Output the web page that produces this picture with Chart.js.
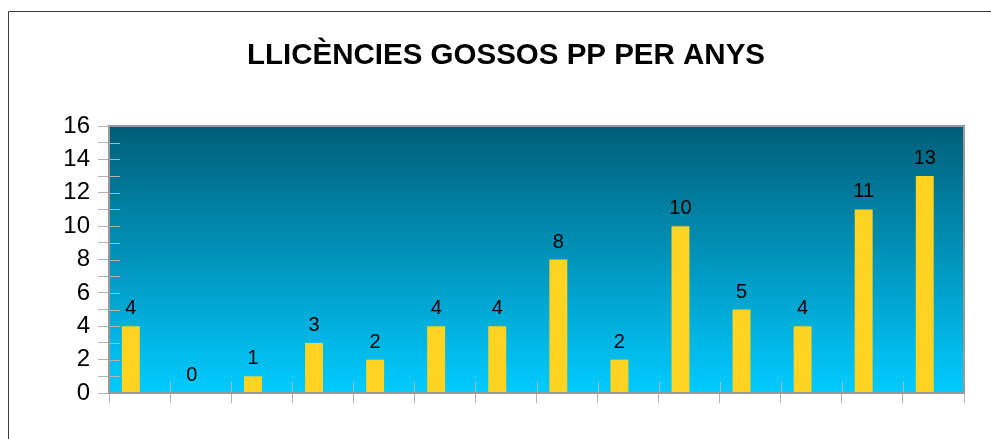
<!DOCTYPE html>
<html>
<head>
<meta charset="utf-8">
<script src="https://cdn.jsdelivr.net/npm/chart.js@4/dist/chart.umd.min.js"></script>
<style>
  html, body { margin: 0; padding: 0; background: #ffffff; }
  canvas { display: block; }
</style>
</head>
<body>
<canvas id="c" width="991" height="439"></canvas>
<script>
// ---- data ----
const chartTitle = 'LLICÈNCIES GOSSOS PP PER ANYS';
const categories = ['1', '2', '3', '4', '5', '6', '7', '8', '9', '10', '11', '12', '13', '14'];
const licences = [4, 0, 1, 3, 2, 4, 4, 8, 2, 10, 5, 4, 11, 13];
const spacer = [null, null, null, null, null, null, null, null, null, null, null, null, null, null];
const yMin = 0, yMax = 16, yMajorStep = 2;

const FONT = "'Liberation Sans', Arial, sans-serif";

const decor = {
  id: 'decor',
  beforeDraw(chart) {
    const ctx = chart.ctx;
    ctx.save();
    ctx.fillStyle = '#ffffff';
    ctx.fillRect(0, 0, chart.width, chart.height);
    ctx.strokeStyle = '#3a3a3a';
    ctx.lineWidth = 1;
    ctx.beginPath();
    ctx.moveTo(8.5, chart.height);
    ctx.lineTo(8.5, 11.5);
    ctx.lineTo(chart.width, 11.5);
    ctx.stroke();
    ctx.restore();
  },
  beforeDatasetsDraw(chart) {
    const { ctx, chartArea: a } = chart;
    ctx.save();
    const g = ctx.createLinearGradient(0, a.top, 0, a.bottom);
    g.addColorStop(0, '#005e78');
    g.addColorStop(1, '#00cbff');
    ctx.fillStyle = g;
    ctx.fillRect(a.left, a.top, a.right - a.left, a.bottom - a.top);
    ctx.restore();
  },
  afterDatasetsDraw(chart) {
    const { ctx, chartArea: a } = chart;
    const xs = chart.scales.x, ys = chart.scales.y;
    ctx.save();
    // inner tick marks
    ctx.strokeStyle = '#b3b3b3';
    ctx.lineWidth = 1;
    ctx.beginPath();
    ys.ticks.forEach(t => {
      const y = Math.round(ys.getPixelForValue(t.value)) + 0.5;
      ctx.moveTo(a.left, y);
      ctx.lineTo(a.left + 11, y);
    });
    const step = xs.getPixelForValue(1) - xs.getPixelForValue(0);
    for (let i = 0; i <= categories.length; i++) {
      const x = Math.round(xs.getPixelForValue(i) - step / 2) + 0.5;
      ctx.moveTo(x, a.bottom);
      ctx.lineTo(x, a.bottom - 11);
    }
    ctx.stroke();
    // plot border
    ctx.strokeStyle = '#999999';
    ctx.lineWidth = 2;
    ctx.strokeRect(a.left, a.top, a.right - a.left, a.bottom - a.top);
    // value labels
    ctx.fillStyle = '#000000';
    ctx.font = '20px ' + FONT;
    ctx.textAlign = 'center';
    ctx.textBaseline = 'alphabetic';
    const meta = chart.getDatasetMeta(0);
    meta.data.forEach((bar, i) => {
      ctx.fillText(String(licences[i]), bar.x, bar.y - 12);
    });
    ctx.restore();
  }
};

new Chart(document.getElementById('c'), {
  type: 'bar',
  data: {
    labels: categories,
    datasets: [
      { label: 'Llicències', data: licences, backgroundColor: '#ffd320', borderWidth: 0,
        barPercentage: 1.03, categoryPercentage: 0.57 },
      { label: '', data: spacer, backgroundColor: 'rgba(0,0,0,0)', borderWidth: 0,
        barPercentage: 1.03, categoryPercentage: 0.57 }
    ]
  },
  options: {
    responsive: false,
    animation: false,
    devicePixelRatio: 1,
    layout: { padding: { left: 48, right: 27, top: 0, bottom: 0 } },
    plugins: {
      legend: { display: false },
      tooltip: { enabled: false },
      title: {
        display: true,
        text: chartTitle,
        color: '#000000',
        font: { family: FONT, size: 29.5, weight: 'bold' },
        padding: { top: 38, bottom: 52.6 }
      }
    },
    scales: {
      x: {
        type: 'category',
        grid: { offset: true, drawOnChartArea: false, drawTicks: true, tickLength: 10, color: '#b3b3b3' },
        border: { display: false },
        ticks: { display: false },
        afterFit(s) { s.height = 46; }
      },
      y: {
        min: yMin,
        max: yMax,
        grid: { drawOnChartArea: false, drawTicks: true, tickLength: 11, color: '#b3b3b3' },
        border: { display: false },
        ticks: {
          stepSize: 1,
          autoSkip: false,
          padding: 8,
          color: '#000000',
          font: { family: FONT, size: 24 },
          callback: v => (v % yMajorStep === 0 ? String(v) : '')
        },
        afterFit(s) { s.width = 61; }
      }
    }
  },
  plugins: [decor]
});
</script>
</body>
</html>
